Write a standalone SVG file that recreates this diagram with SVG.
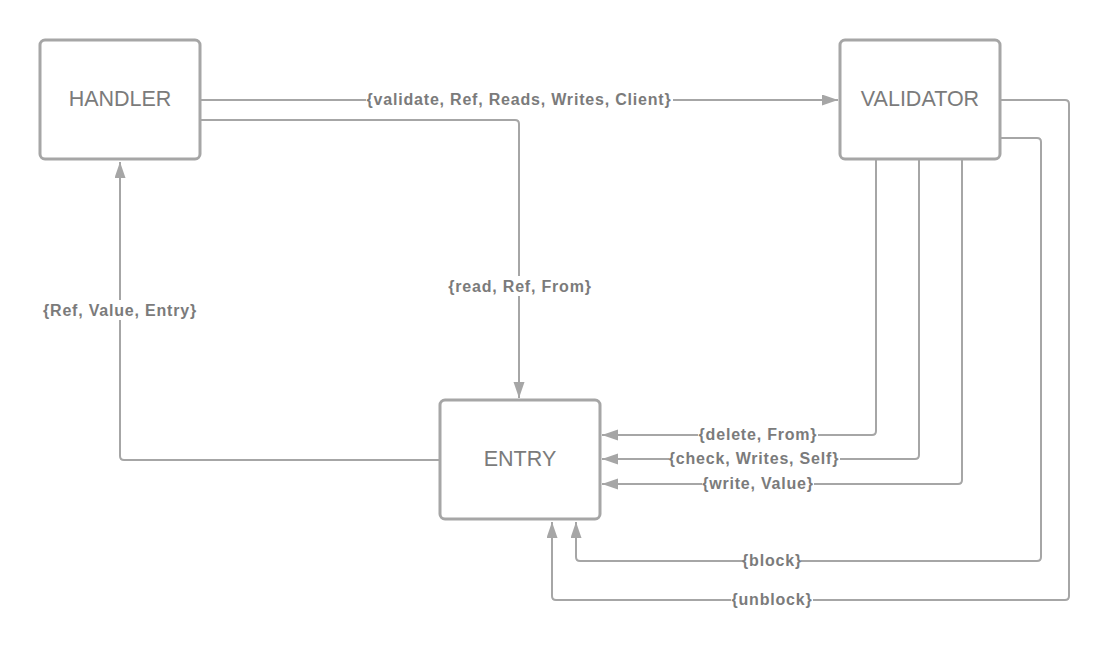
<svg xmlns="http://www.w3.org/2000/svg" width="1111" height="651" viewBox="0 0 1111 651">
  <style>
    .box { fill: #ffffff; stroke: #a6a6a6; stroke-width: 3; }
    .name { font-family: "Liberation Sans", Arial, sans-serif; font-size: 21.5px; fill: #7b7b7b; text-anchor: middle; dominant-baseline: central; }
    .wire { fill: none; stroke: #a6a6a6; stroke-width: 2; stroke-linejoin: round; }
    .tag { font-family: "Liberation Sans", Arial, sans-serif; font-size: 16px; font-weight: bold; letter-spacing: 0.8px; fill: #7b7b7b; text-anchor: middle; dominant-baseline: central; }
    .tagbg { fill: #ffffff; }
  </style>
  <defs>
    <marker id="arrow" markerUnits="userSpaceOnUse" markerWidth="17" markerHeight="12" refX="16" refY="5.5" orient="auto">
      <path d="M0,0 L16,5.5 L0,11 z" fill="#a6a6a6"/>
    </marker>
  </defs>

  <rect width="1111" height="651" fill="#ffffff"/>

  <!-- connectors -->
  <g id="connectors">
    <!-- handler -> validator -->
    <path class="wire" d="M200,100 H838" marker-end="url(#arrow)"/>
    <!-- handler -> entry (read) -->
    <path class="wire" d="M200,120 H515 Q519,120 519,124 V398" marker-end="url(#arrow)"/>
    <!-- entry -> handler -->
    <path class="wire" d="M440,460 H124 Q120,460 120,456 V162" marker-end="url(#arrow)"/>
    <!-- validator -> entry: delete -->
    <path class="wire" d="M876,160 V431 Q876,435 872,435 H602" marker-end="url(#arrow)"/>
    <!-- validator -> entry: check -->
    <path class="wire" d="M919,160 V455 Q919,459 915,459 H602" marker-end="url(#arrow)"/>
    <!-- validator -> entry: write -->
    <path class="wire" d="M962,160 V480 Q962,484 958,484 H602" marker-end="url(#arrow)"/>
    <!-- validator -> entry: block -->
    <path class="wire" d="M1000,138 H1037 Q1041,138 1041,142 V557 Q1041,561 1037,561 H580 Q576,561 576,557 V522" marker-end="url(#arrow)"/>
    <!-- validator -> entry: unblock -->
    <path class="wire" d="M1000,100 H1065 Q1069,100 1069,104 V596 Q1069,600 1065,600 H556 Q552,600 552,596 V522" marker-end="url(#arrow)"/>

    <!-- labels -->
    <rect class="tagbg" x="366" y="90" width="307" height="20"/>
    <text class="tag" x="519" y="99">{validate, Ref, Reads, Writes, Client}</text>

    <rect class="tagbg" x="446" y="276" width="148" height="20"/>
    <text class="tag" x="520" y="286">{read, Ref, From}</text>

    <rect class="tagbg" x="42" y="300" width="156" height="20"/>
    <text class="tag" x="120" y="310">{Ref, Value, Entry}</text>

    <rect class="tagbg" x="698" y="425" width="120" height="20"/>
    <text class="tag" x="758" y="434">{delete, From}</text>

    <rect class="tagbg" x="669" y="449" width="171" height="20"/>
    <text class="tag" x="754" y="458">{check, Writes, Self}</text>

    <rect class="tagbg" x="702" y="474" width="112" height="20"/>
    <text class="tag" x="758" y="483">{write, Value}</text>

    <rect class="tagbg" x="743" y="551" width="58" height="20"/>
    <text class="tag" x="772" y="560">{block}</text>

    <rect class="tagbg" x="731" y="590" width="82" height="20"/>
    <text class="tag" x="772" y="599">{unblock}</text>
  </g>

  <!-- nodes -->
  <g id="handler">
    <rect class="box" x="40" y="40" width="160" height="119" rx="5"/>
    <text class="name" x="120" y="99">HANDLER</text>
  </g>
  <g id="validator">
    <rect class="box" x="840" y="40" width="160" height="119" rx="5"/>
    <text class="name" x="920" y="99">VALIDATOR</text>
  </g>
  <g id="entry">
    <rect class="box" x="440" y="400" width="160" height="119" rx="5"/>
    <text class="name" x="520" y="459">ENTRY</text>
  </g>
</svg>
